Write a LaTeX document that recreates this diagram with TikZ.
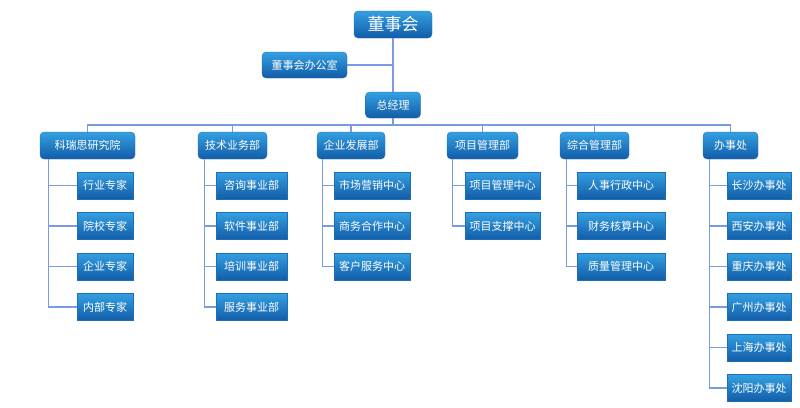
\documentclass[tikz,border=0pt]{standalone}
\usepackage{fontspec}
\setmainfont{Noto Sans CJK SC}
\begin{document}
\begin{tikzpicture}[x=1pt,y=-1pt,
  conn/.style={draw={rgb,255:red,120;green,155;blue,225},line width=1.1pt},
  boxbase/.style={text=white,inner sep=0pt,font=\fontsize{11}{13}\selectfont,
    top color={rgb,255:red,52;green,160;blue,225},bottom color={rgb,255:red,18;green,92;blue,168},
    draw={rgb,255:red,30;green,110;blue,185},line width=0.3pt},
  head/.style={boxbase,rounded corners=4pt,minimum height=27pt},
  leaf/.style={boxbase,minimum height=27pt}
]
\useasboundingbox (0,0) rectangle (800,407);
\fill[white] (0,0) rectangle (800,407);

% top level
\node[head,minimum width=78pt,font=\fontsize{17}{19}\selectfont] (board) at (393,24.5) {董事会};
\node[head,minimum width=85pt,minimum height=26pt] (office) at (304.5,65) {董事会办公室};
\node[head,minimum width=55pt,minimum height=26pt] (gm) at (393,105) {总经理};
\coordinate (bus) at (393,125);

% departments
\node[head,minimum width=95pt] (d1) at (87.5,145.5) {科瑞思研究院};
\node[head,minimum width=69pt] (d2) at (232.5,145.5) {技术业务部};
\node[head,minimum width=68pt] (d3) at (351,145.5) {企业发展部};
\node[head,minimum width=71pt] (d4) at (482.5,145.5) {项目管理部};
\node[head,minimum width=69pt] (d5) at (594.5,145.5) {综合管理部};
\node[head,minimum width=55pt] (d6) at (730.5,145.5) {办事处};

% children
\node[leaf,minimum width=56pt] (c11) at (105,185.5) {行业专家};
\node[leaf,minimum width=56pt] (c12) at (105,226) {院校专家};
\node[leaf,minimum width=56pt] (c13) at (105,266.5) {企业专家};
\node[leaf,minimum width=56pt] (c14) at (105,307) {内部专家};

\node[leaf,minimum width=71pt] (c21) at (251.5,185.5) {咨询事业部};
\node[leaf,minimum width=71pt] (c22) at (251.5,226) {软件事业部};
\node[leaf,minimum width=71pt] (c23) at (251.5,266.5) {培训事业部};
\node[leaf,minimum width=71pt] (c24) at (251.5,307) {服务事业部};

\node[leaf,minimum width=76pt] (c31) at (372,185.5) {市场营销中心};
\node[leaf,minimum width=76pt] (c32) at (372,226) {商务合作中心};
\node[leaf,minimum width=76pt] (c33) at (372,266.5) {客户服务中心};

\node[leaf,minimum width=75pt] (c41) at (502.5,185.5) {项目管理中心};
\node[leaf,minimum width=75pt] (c42) at (502.5,226) {项目支撑中心};

\node[leaf,minimum width=88pt] (c51) at (621,185.5) {人事行政中心};
\node[leaf,minimum width=88pt] (c52) at (621,226) {财务核算中心};
\node[leaf,minimum width=88pt] (c53) at (621,266.5) {质量管理中心};

\node[leaf,minimum width=64pt] (c61) at (759,185.5) {长沙办事处};
\node[leaf,minimum width=64pt] (c62) at (759,226) {西安办事处};
\node[leaf,minimum width=64pt] (c63) at (759,266.5) {重庆办事处};
\node[leaf,minimum width=64pt] (c64) at (759,307) {广州办事处};
\node[leaf,minimum width=64pt] (c65) at (759,347.5) {上海办事处};
\node[leaf,minimum width=64pt] (c66) at (759,388) {沈阳办事处};

% connectors top
\begin{scope}[on background layer/.style={}]
\draw[conn] (board.south) -- (gm.north);
\draw[conn] (office.east) -- (office.east -| board.south);
\draw[conn] (gm.south) -- (bus);
\draw[conn] (d1.north) -- (d1.north |- bus) -- (d6.north |- bus) -- (d6.north);
\draw[conn] (d2.north) -- (d2.north |- bus);
\draw[conn] (d3.north) -- (d3.north |- bus);
\draw[conn] (d4.north) -- (d4.north |- bus);
\draw[conn] (d5.north) -- (d5.north |- bus);

% spines
\draw[conn] ([xshift=9pt]d1.south west) |- (c14.west);
\foreach \c in {c11,c12,c13} \draw[conn] ([xshift=9pt]d1.south west |- \c.west) -- (\c.west);
\draw[conn] ([xshift=7pt]d2.south west) |- (c24.west);
\foreach \c in {c21,c22,c23} \draw[conn] ([xshift=7pt]d2.south west |- \c.west) -- (\c.west);
\draw[conn] ([xshift=6pt]d3.south west) |- (c33.west);
\foreach \c in {c31,c32} \draw[conn] ([xshift=6pt]d3.south west |- \c.west) -- (\c.west);
\draw[conn] ([xshift=6pt]d4.south west) |- (c42.west);
\draw[conn] ([xshift=6pt]d4.south west |- c41.west) -- (c41.west);
\draw[conn] ([xshift=7pt]d5.south west) |- (c53.west);
\foreach \c in {c51,c52} \draw[conn] ([xshift=7pt]d5.south west |- \c.west) -- (\c.west);
\draw[conn] ([xshift=7pt]d6.south west) |- (c66.west);
\foreach \c in {c61,c62,c63,c64,c65} \draw[conn] ([xshift=7pt]d6.south west |- \c.west) -- (\c.west);
\end{scope}
\end{tikzpicture}
\end{document}
